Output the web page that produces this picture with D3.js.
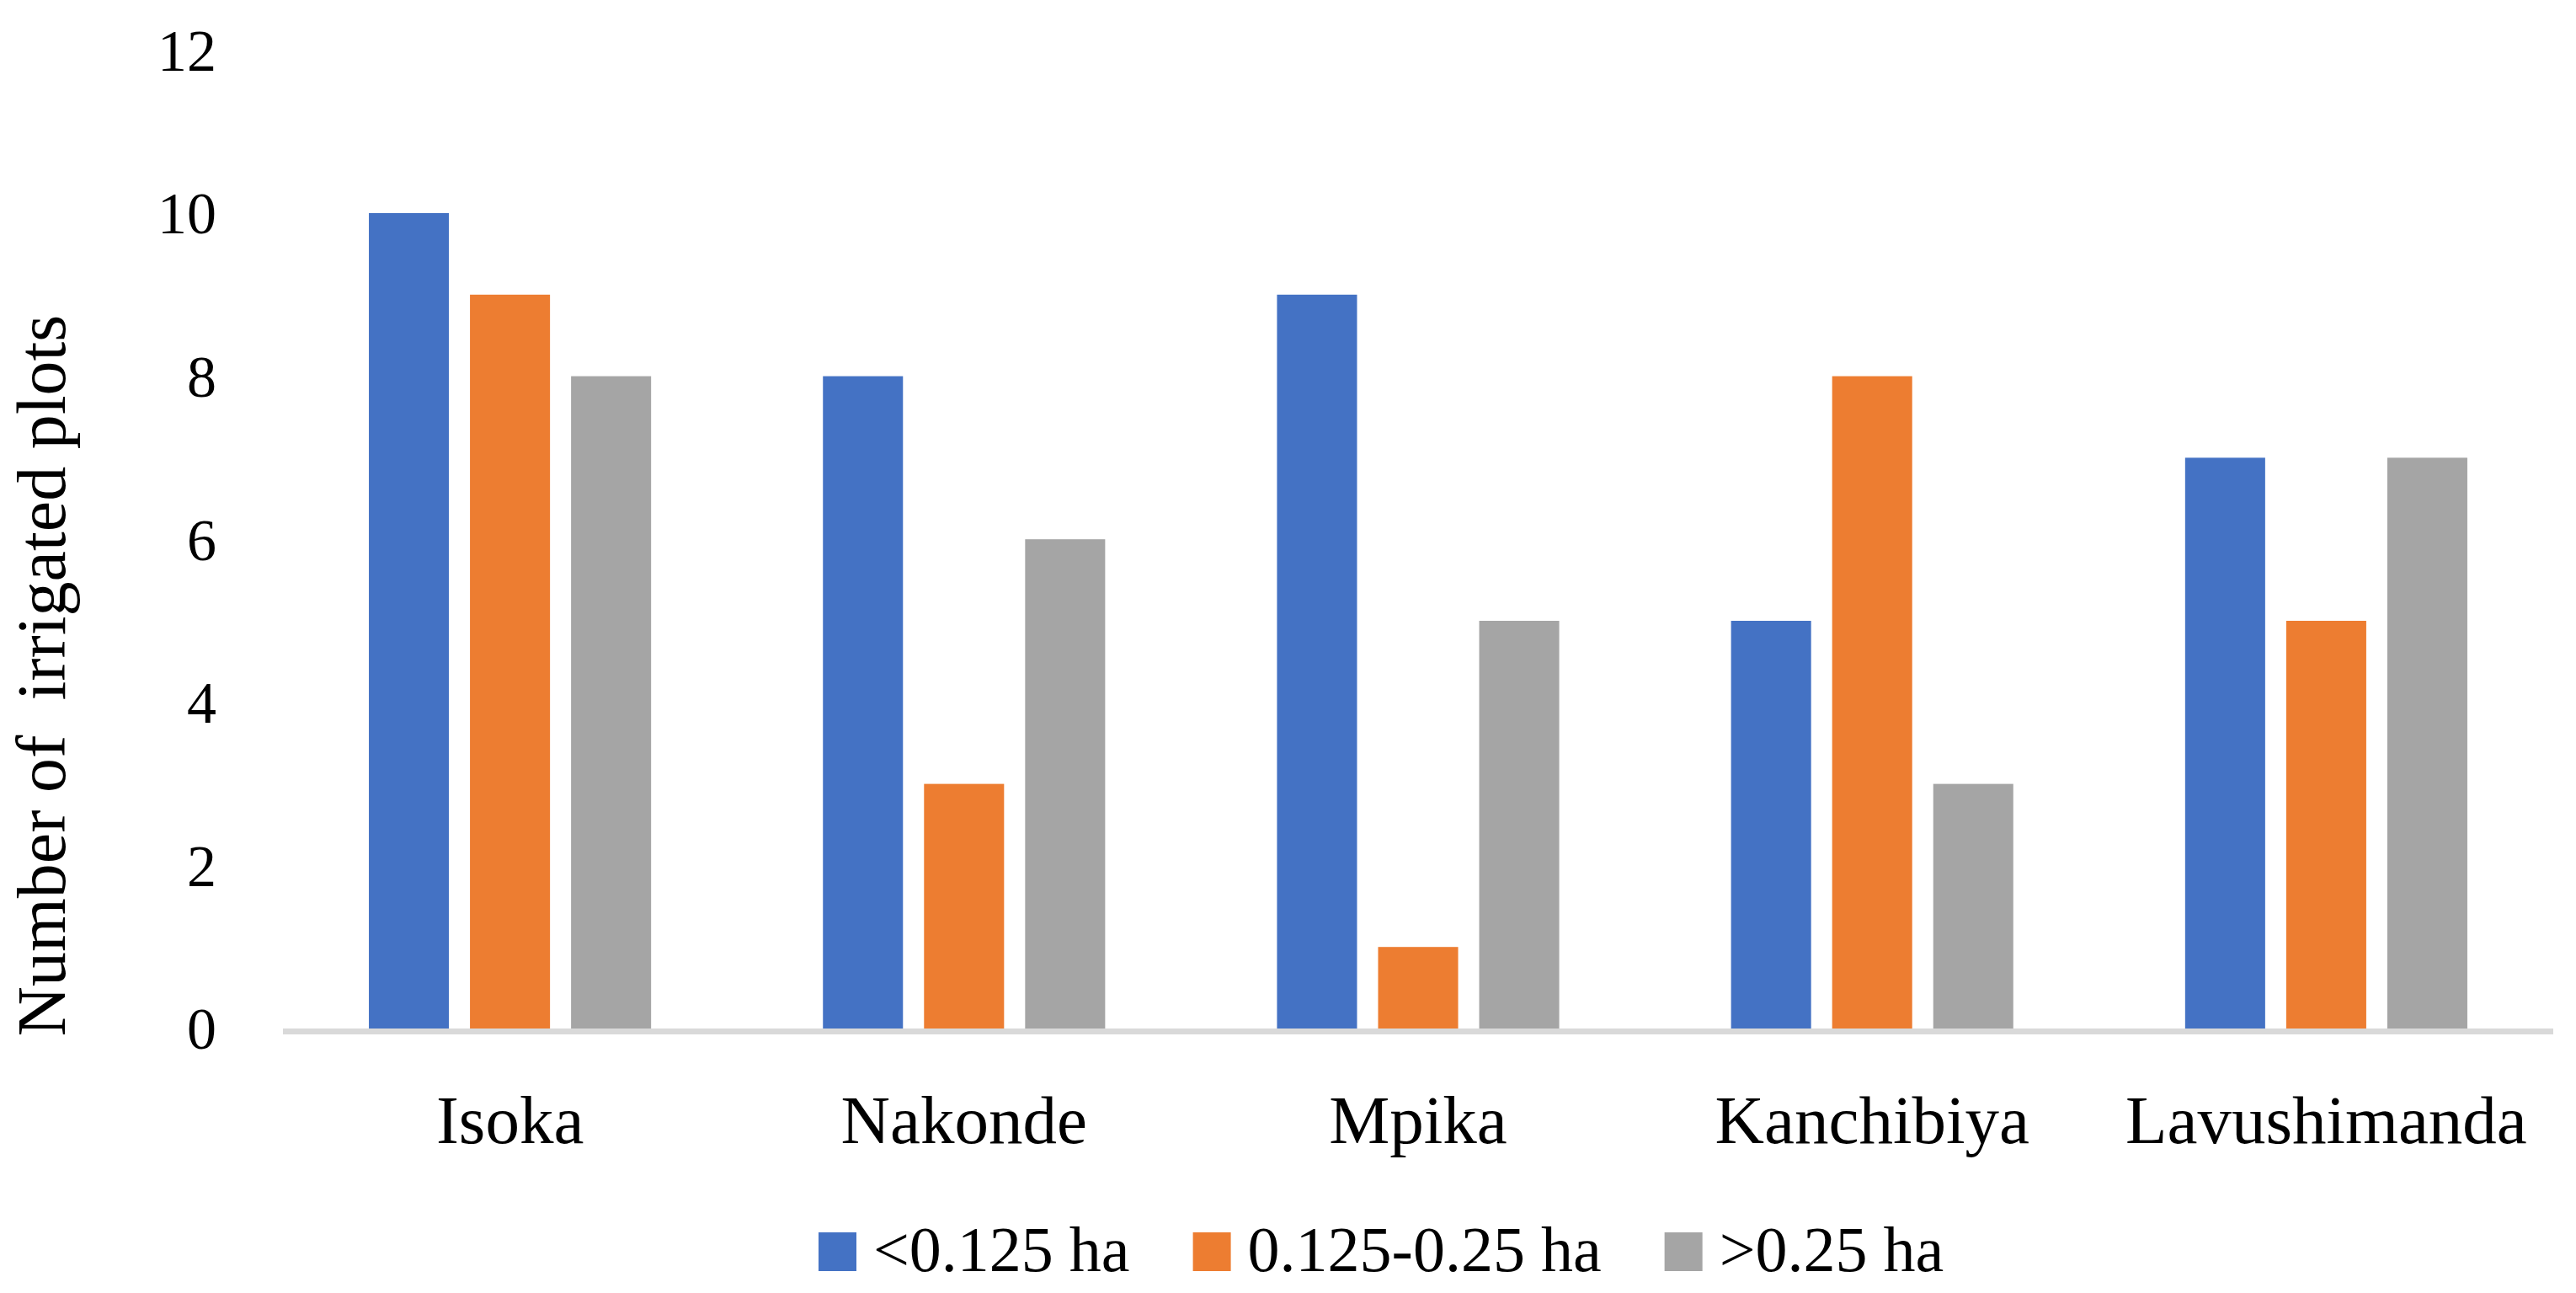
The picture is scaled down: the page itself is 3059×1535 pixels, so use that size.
<!DOCTYPE html>
<html>
<head>
<meta charset="utf-8">
<script src="https://cdn.jsdelivr.net/npm/d3@7"></script>
<style>
  html, body { margin: 0; padding: 0; background: #fff; }
  svg { display: block; }
  text { font-family: "Liberation Serif", "Times New Roman", serif; fill: #000; }
</style>
</head>
<body>
<svg id="chart" width="3059" height="1535"></svg>
<script>
const categories = ["Isoka", "Nakonde", "Mpika", "Kanchibiya", "Lavushimanda"];
const seriesNames = ["<0.125 ha", "0.125-0.25 ha", ">0.25 ha"];
const seriesSmall = [10, 8, 9, 5, 7];
const seriesMedium = [9, 3, 1, 8, 5];
const seriesLarge = [8, 6, 5, 3, 7];
const yTicks = [0, 2, 4, 6, 8, 10, 12];
const colors = ["#4472C4", "#ED7D31", "#A5A5A5"];
const yTitle = "Number of  irrigated plots";

const seriesValues = [seriesSmall, seriesMedium, seriesLarge];

const svg = d3.select("#chart");
const plotLeft = 336, plotRight = 3032, plotTop = 59.4, plotBottom = 1221;

const x0 = d3.scaleBand().domain(categories).range([plotLeft, plotRight]).padding(0);
const x1 = d3.scaleBand().domain(d3.range(seriesNames.length))
  .range([0, x0.bandwidth()]).paddingInner(0.2083).paddingOuter(0.85);
const y = d3.scaleLinear().domain([0, 12]).range([plotBottom, plotTop]);

// bars
const groups = svg.append("g").selectAll("g")
  .data(categories).join("g")
  .attr("transform", d => `translate(${x0(d)},0)`);
groups.selectAll("rect")
  .data((c, ci) => seriesValues.map((s, si) => ({si, v: s[ci]})))
  .join("rect")
  .attr("x", d => x1(d.si))
  .attr("width", x1.bandwidth())
  .attr("y", d => y(d.v))
  .attr("height", d => y(0) - y(d.v))
  .attr("fill", d => colors[d.si]);

// x axis line
svg.append("rect")
  .attr("x", plotLeft).attr("y", plotBottom)
  .attr("width", plotRight - plotLeft).attr("height", 7)
  .attr("fill", "#D9D9D9");

// y axis
const yAxis = svg.append("g")
  .attr("transform", `translate(${plotLeft},0)`)
  .call(d3.axisLeft(y).tickValues(yTicks).tickSize(0).tickPadding(79).tickFormat(d3.format("d")));
yAxis.select(".domain").remove();
yAxis.selectAll("text")
  .style("font-family", '"Liberation Serif", serif')
  .attr("font-size", 70).attr("fill", "#000").attr("dy", "0.34em");

// x axis labels
const xAxis = svg.append("g")
  .attr("transform", `translate(0,${plotBottom})`)
  .call(d3.axisBottom(x0).tickSize(0));
xAxis.select(".domain").remove();
xAxis.selectAll("text")
  .style("font-family", '"Liberation Serif", serif')
  .attr("font-size", 81).attr("fill", "#000")
  .attr("y", 136).attr("dy", null);

// y title
svg.append("text")
  .attr("transform", "translate(77,802) rotate(-90)")
  .attr("text-anchor", "middle")
  .attr("font-size", 82)
  .style("white-space", "pre")
  .attr("xml:space", "preserve")
  .text(yTitle);

// legend
const legend = svg.append("g");
let lx = 972;
const legY = 1509;
seriesNames.forEach((name, i) => {
  legend.append("rect")
    .attr("x", lx).attr("y", legY - 46)
    .attr("width", 45).attr("height", 46)
    .attr("fill", colors[i]);
  const t = legend.append("text")
    .attr("x", lx + 65).attr("y", legY)
    .attr("font-size", 76)
    .text(name);
  const w = t.node().getComputedTextLength();
  lx = lx + 65 + w + 75;
});
</script>
</body>
</html>
